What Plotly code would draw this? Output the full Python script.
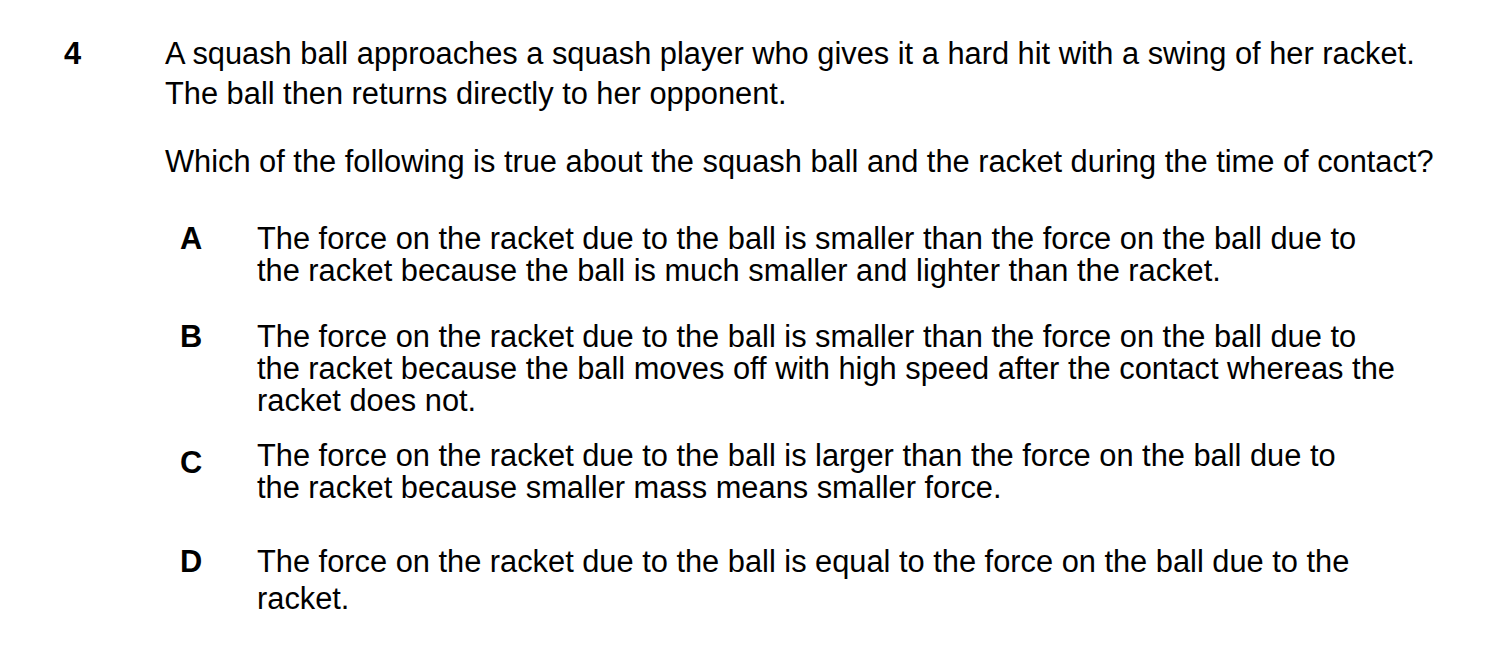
import plotly.graph_objects as go

W, H = 1499, 667

QUESTION_NUMBER = "4"
STEM_LINES = [
    "A squash ball approaches a squash player who gives it a hard hit with a swing of her racket.",
    "The ball then returns directly to her opponent.",
]
PROMPT = "Which of the following is true about the squash ball and the racket during the time of contact?"
OPTION_LETTERS = ["A", "B", "C", "D"]
OPTION_LINES = [
    ["The force on the racket due to the ball is smaller than the force on the ball due to",
     "the racket because the ball is much smaller and lighter than the racket."],
    ["The force on the racket due to the ball is smaller than the force on the ball due to",
     "the racket because the ball moves off with high speed after the contact whereas the",
     "racket does not."],
    ["The force on the racket due to the ball is larger than the force on the ball due to",
     "the racket because smaller mass means smaller force."],
    ["The force on the racket due to the ball is equal to the force on the ball due to the",
     "racket."],
]

# layout (pixels from top-left of the window)
FONT = "Liberation Sans, Arial, Helvetica, sans-serif"
SIZE = 30.8
PAGE_OFFSET = 8  # default body margin of the page
STEM_Y = [53, 93]
PROMPT_Y = 161
OPTION_Y = [[238, 270], [336, 368, 400], [455, 487], [561, 598]]
LETTER_Y = [238, 336, 462, 561]

fig = go.Figure()


def text(x, y, s, bold=False, anchor="left"):
    fig.add_annotation(
        x=x, y=y, xref="x", yref="y", text=f"<b>{s}</b>" if bold else s,
        showarrow=False, xanchor=anchor, yanchor="middle",
        font=dict(family=FONT, size=SIZE, color="#000000"),
    )


text(72, 53, QUESTION_NUMBER, bold=True, anchor="center")
for y, s in zip(STEM_Y, STEM_LINES):
    text(163, y, s)
text(163, PROMPT_Y, PROMPT)
for letter, ly, ys, lines in zip(OPTION_LETTERS, LETTER_Y, OPTION_Y, OPTION_LINES):
    text(191, ly, letter, bold=True, anchor="center")
    for y, s in zip(ys, lines):
        text(255, y, s)

fig.update_xaxes(range=[PAGE_OFFSET, W + PAGE_OFFSET], visible=False)
fig.update_yaxes(range=[H + PAGE_OFFSET, PAGE_OFFSET], visible=False)
fig.update_layout(
    width=W, height=H, margin=dict(l=0, r=0, t=0, b=0),
    plot_bgcolor="white", paper_bgcolor="white", showlegend=False,
)
fig.write_html("out.html")
